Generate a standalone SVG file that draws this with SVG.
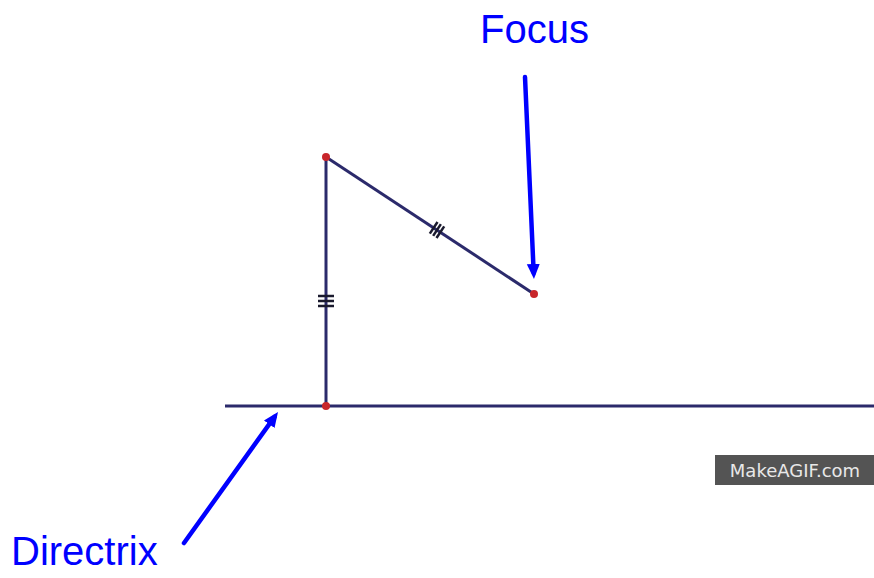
<svg xmlns="http://www.w3.org/2000/svg" width="874" height="578" viewBox="0 0 874 578">
<style>
.geo{stroke:#2b2a6b;stroke-width:3;fill:none;stroke-linecap:butt}
.tick{stroke:#1a1a2e;stroke-width:2.5;fill:none}
.pt{fill:#c8262b}
.arrow{stroke:#0000ff;stroke-width:4.5;fill:none;stroke-linecap:round}
.lbl{font-family:"Liberation Sans",Arial,sans-serif;font-size:40px;fill:#0000ff}
</style>
<defs>
<marker id="ah" markerUnits="userSpaceOnUse" markerWidth="16" markerHeight="16" viewBox="0 0 16 16" refX="9" refY="8" orient="auto">
<path d="M0,1.5 L15,8 L0,14.5 Z" fill="#0000ff"/>
</marker>
</defs>
<rect width="874" height="578" fill="#ffffff"/>
<g id="directrix">
<line class="geo" x1="225" y1="406" x2="874" y2="406"/>
</g>
<g id="perpendicular">
<line class="geo" x1="326" y1="157" x2="326" y2="406"/>
<g class="tick">
<line x1="318" y1="296" x2="334" y2="296"/>
<line x1="318" y1="301" x2="334" y2="301"/>
<line x1="318" y1="306" x2="334" y2="306"/>
</g>
</g>
<g id="focal-segment">
<line class="geo" x1="326" y1="157" x2="534" y2="294"/>
<g class="tick" transform="translate(437,230) rotate(33.4)">
<line x1="-4" y1="-7" x2="-4" y2="7"/>
<line x1="0" y1="-7" x2="0" y2="7"/>
<line x1="4" y1="-7" x2="4" y2="7"/>
</g>
</g>
<g id="points">
<circle class="pt" cx="326" cy="157" r="4"/>
<circle class="pt" cx="534" cy="294" r="4"/>
<circle class="pt" cx="326" cy="406" r="4"/>
</g>
<g id="focus-label">
<text class="lbl" x="480" y="43">Focus</text>
</g>
<g id="directrix-label">
<text class="lbl" x="11" y="565">Directrix</text>
</g>
<g id="connectors">
<line class="arrow" x1="525" y1="77" x2="533.7" y2="273" marker-end="url(#ah)"/>
<line class="arrow" x1="184" y1="543" x2="274.5" y2="416.9" marker-end="url(#ah)"/>
</g>
<g id="watermark">
<rect x="715" y="455" width="159" height="30" fill="#545454"/>
<text x="795" y="477" text-anchor="middle" font-family="DejaVu Sans, Verdana, sans-serif" font-size="18" fill="#e8e8e8">MakeAGIF.com</text>
</g>
</svg>
